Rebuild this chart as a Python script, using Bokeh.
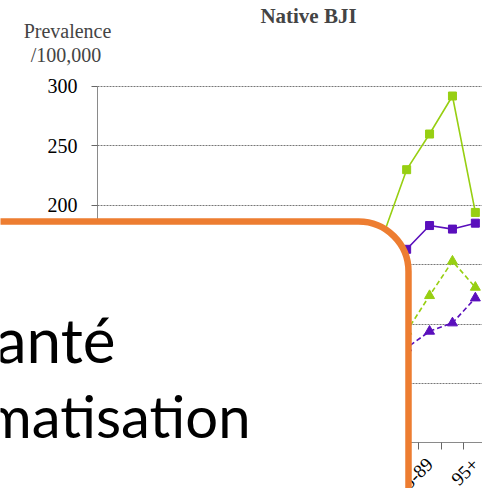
import math
from bokeh.plotting import figure
from bokeh.models import (Range1d, LinearAxis, FixedTicker, Label, BoxAnnotation)
from bokeh.embed import file_html
from bokeh.resources import INLINE

# ---- data ----
age_groups = ["15-19", "20-24", "25-29", "30-34", "35-39", "40-44", "45-49",
              "50-54", "55-59", "60-64", "65-69", "70-74", "75-79", "80-84",
              "85-89", "90-94", "95+"]
green_solid = [20, 22, 25, 30, 38, 50, 62, 78, 95, 110, 130, 150, 176, 230, 260, 292, 194]
purple_solid = [15, 17, 20, 24, 30, 40, 50, 62, 75, 88, 102, 120, 140, 163, 183, 180, 185]
green_dashed = [8, 9, 10, 12, 15, 19, 24, 30, 37, 45, 55, 66, 80, 94, 124, 153, 131]
purple_dashed = [6, 7, 8, 10, 12, 15, 19, 24, 30, 37, 45, 55, 67, 80, 94, 101, 122]
y_ticks = [0, 50, 100, 150, 200, 250, 300]
title_text = "Native BJI"
y_title = ["Prevalence", "/100,000"]
overlay_text = ["Santé", "Informatisation"]

GREEN = "#97CF12"
PURPLE = "#5A0FBC"
ORANGE = "#ED7D31"

W, H = 482, 488
xs = list(range(len(age_groups)))

p = figure(width=W, height=H, output_backend="svg", toolbar_location=None,
           x_range=Range1d(-4.736, 16.312), y_range=Range1d(-38.29, 372.37),
           min_border=0, x_axis_location=None, y_axis_location=None)
p.outline_line_color = None
p.background_fill_color = "white"

# y axis drawn at the left edge of the categories
yax = LinearAxis(ticker=FixedTicker(ticks=y_ticks, minor_ticks=[]),
                 fixed_location=-0.5, bounds=(0, 300))
yax.axis_line_color = "#8a8a8a"
yax.major_tick_line_color = "#666666"
yax.major_tick_out = 6
yax.major_tick_in = 0
yax.major_label_standoff = 14
yax.major_label_text_font = "Liberation Serif"
yax.major_label_text_font_size = "20px"
yax.major_label_text_color = "black"
p.add_layout(yax, "left")

# x axis drawn at y=0
label_idx = [i for i in xs if i % 2 == 0]
xax = LinearAxis(ticker=FixedTicker(ticks=label_idx,
                                    minor_ticks=[i + 0.5 for i in range(-1, len(xs))]),
                 fixed_location=0, bounds=(-0.5, len(xs) - 0.5))
xax.major_label_overrides = {i: age_groups[i] for i in label_idx}
xax.major_label_orientation = math.pi / 4
xax.axis_line_color = "#8a8a8a"
xax.major_tick_out = 0
xax.major_tick_in = 0
xax.minor_tick_out = 7
xax.minor_tick_in = 0
xax.minor_tick_line_color = "#666666"
xax.major_label_standoff = 11
xax.major_label_text_font = "Liberation Serif"
xax.major_label_text_font_size = "19px"
xax.major_label_text_color = "black"
p.add_layout(xax, "below")

p.xgrid.visible = False
p.ygrid.ticker = FixedTicker(ticks=y_ticks[1:])
p.ygrid.cross_bounds = (-0.5, len(xs) - 0.5)
p.ygrid.grid_line_color = "#777777"
p.ygrid.grid_line_dash = "2 1"
p.ygrid.grid_line_width = 1

# series
p.line(xs, green_solid, line_color=GREEN, line_width=1.6)
p.scatter(xs, green_solid, marker="square", size=8, fill_color=GREEN, line_color=GREEN)
p.line(xs, purple_solid, line_color=PURPLE, line_width=1.6)
p.scatter(xs, purple_solid, marker="square", size=8, fill_color=PURPLE, line_color=PURPLE)
p.line(xs, green_dashed, line_color=GREEN, line_width=1.6, line_dash="5 3")
p.scatter(xs, green_dashed, marker="triangle", size=10, fill_color=GREEN, line_color=GREEN)
p.line(xs, purple_dashed, line_color=PURPLE, line_width=1.6, line_dash="5 3")
p.scatter(xs, purple_dashed, marker="triangle", size=10, fill_color=PURPLE, line_color=PURPLE)

# titles (screen units: x from left, y from bottom of the figure)
p.add_layout(Label(x=308, y=H - 15.8, x_units="screen", y_units="screen", text=title_text,
                   text_font="Liberation Serif", text_font_style="bold",
                   text_font_size="21px", text_align="center", text_baseline="alphabetic"))
p.add_layout(Label(x=67, y=H - 30.2, x_units="screen", y_units="screen", text=y_title[0],
                   text_font="Liberation Serif", text_font_size="20px",
                   text_align="center", text_baseline="alphabetic"))
p.add_layout(Label(x=65.5, y=H - 54.4, x_units="screen", y_units="screen", text=y_title[1],
                   text_font="Liberation Serif", text_font_size="20px",
                   text_align="center", text_baseline="alphabetic"))

# overlay box
box = BoxAnnotation(left=-60, right=408, top=H - 221, bottom=-60,
                    left_units="screen", right_units="screen",
                    top_units="screen", bottom_units="screen",
                    fill_color="white", fill_alpha=1.0,
                    line_color=ORANGE, line_width=6.5, line_alpha=1.0,
                    border_radius=50)
p.add_layout(box)
p.add_layout(Label(x=115, y=H - 338, x_units="screen", y_units="screen", text=overlay_text[0],
                   text_font="Lato", text_font_size="62px", text_color="black",
                   text_align="right", text_baseline="alphabetic"))
p.add_layout(Label(x=250, y=H - 414.6, x_units="screen", y_units="screen", text=overlay_text[1],
                   text_font="Lato", text_font_size="58px", text_color="black",
                   text_align="right", text_baseline="alphabetic"))

open("out.html", "w").write(file_html(p, INLINE))
